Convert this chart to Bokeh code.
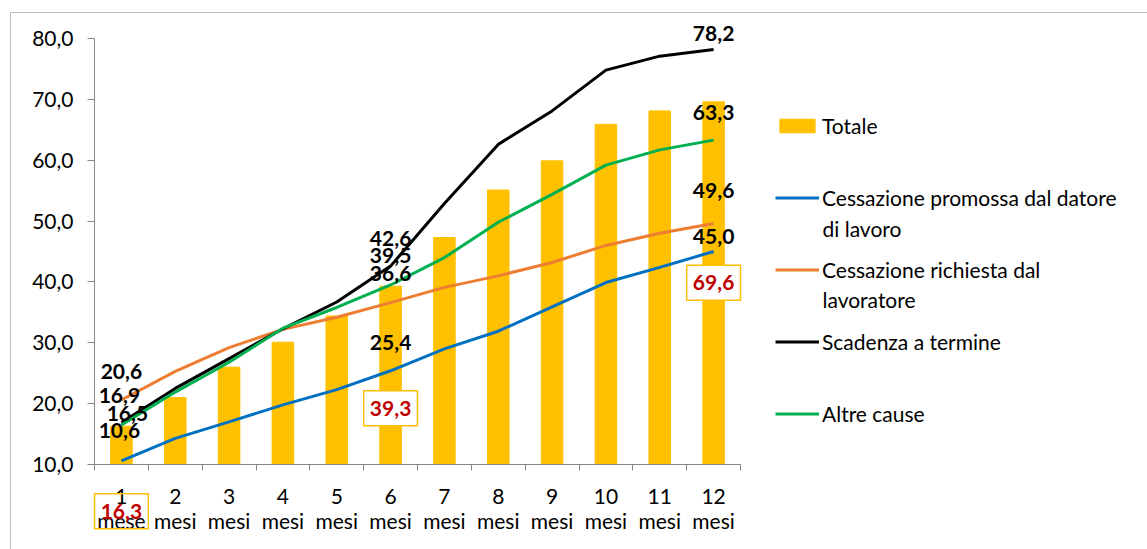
from bokeh.plotting import figure
from bokeh.models import Range1d, FixedTicker, Label, Legend, LegendItem, BoxAnnotation
from bokeh.embed import file_html
from bokeh.resources import INLINE

# ---- data -------------------------------------------------------------
months = [1, 2, 3, 4, 5, 6, 7, 8, 9, 10, 11, 12]
month_labels = ["1\nmese", "2\nmesi", "3\nmesi", "4\nmesi", "5\nmesi", "6\nmesi",
                "7\nmesi", "8\nmesi", "9\nmesi", "10\nmesi", "11\nmesi", "12\nmesi"]

totale = [16.3, 21.0, 26.0, 30.1, 34.4, 39.3, 47.3, 55.1, 59.9, 65.9, 68.1, 69.6]
datore = [10.6, 14.3, 17.0, 19.8, 22.3, 25.4, 29.0, 31.9, 35.9, 39.9, 42.4, 45.0]
lavoratore = [20.6, 25.3, 29.2, 32.2, 34.2, 36.6, 39.1, 41.0, 43.2, 46.0, 48.0, 49.6]
scadenza = [16.9, 22.5, 27.4, 32.3, 36.7, 42.6, 52.9, 62.6, 68.1, 74.8, 77.1, 78.2]
altre = [16.5, 21.9, 26.8, 32.4, 35.8, 39.5, 44.0, 49.8, 54.4, 59.2, 61.7, 63.3]

y_ticks = [10, 20, 30, 40, 50, 60, 70, 80]
y_tick_labels = ["10,0", "20,0", "30,0", "40,0", "50,0", "60,0", "70,0", "80,0"]

labelled_months = [1, 6, 12]

# ---- layout constants (pixels) ----------------------------------------
W, H = 1147, 549
# plotting area of the axes inside the canvas
A_LEFT, A_RIGHT, A_TOP, A_BOTTOM = 94, 740, 38, 464
X_LO, X_HI = 0.5, 12.5
Y_LO, Y_HI = 10, 80

SX = (X_HI - X_LO) / (A_RIGHT - A_LEFT)   # data units per pixel, x
SY = (Y_HI - Y_LO) / (A_BOTTOM - A_TOP)   # data units per pixel, y

FONT = "Lato"
FS = "21px"
GREY = "#868686"


def px_to_x(px):
    return X_LO + (px - A_LEFT) * SX


def px_to_y(py):
    return Y_LO + (A_BOTTOM - py) * SY


def it(v):
    return f"{v:.1f}".replace(".", ",")


# the frame spans the whole canvas so that labels, legend and frame border are not clipped
p = figure(width=W, height=H, title=None,
           x_range=Range1d(px_to_x(0), px_to_x(W)), y_range=Range1d(px_to_y(H), px_to_y(0)),
           min_border=0, min_border_left=0, min_border_right=0,
           min_border_top=0, min_border_bottom=0,
           output_backend="svg", toolbar_location=None,
           background_fill_color="white", border_fill_color="white")
p.outline_line_color = None
p.xgrid.visible = False
p.ygrid.visible = False

# chart-area frame
p.add_layout(BoxAnnotation(left=px_to_x(10), right=px_to_x(W + 20), top=px_to_y(12),
                           bottom=px_to_y(H + 20), fill_color=None, line_color="#bdbdbd",
                           line_alpha=1.0, line_width=1, level="underlay"))

# ---- axes ---------------------------------------------------------------
xa = p.xaxis[0]
xa.fixed_location = Y_LO
xa.bounds = (X_LO, X_HI)
xa.ticker = FixedTicker(ticks=months, minor_ticks=[m - 0.5 for m in months] + [12.5])
xa.major_label_overrides = {m: lab for m, lab in zip(months, month_labels)}
xa.major_tick_line_color = None
xa.major_tick_in = 0
xa.major_tick_out = 0
xa.minor_tick_in = 0
xa.minor_tick_out = 6
xa.minor_tick_line_color = GREY
xa.axis_line_color = GREY
xa.major_label_standoff = 12
xa.major_label_text_font = FONT
xa.major_label_text_font_size = FS
xa.major_label_text_color = "black"
xa.major_label_text_line_height = 1.0

ya = p.yaxis[0]
ya.fixed_location = X_LO
ya.bounds = (Y_LO, Y_HI)
ya.ticker = FixedTicker(ticks=y_ticks, minor_ticks=[])
ya.major_label_overrides = {t: lab for t, lab in zip(y_ticks, y_tick_labels)}
ya.major_tick_in = 0
ya.major_tick_out = 7
ya.major_tick_line_color = GREY
ya.minor_tick_line_color = None
ya.axis_line_color = GREY
ya.major_label_standoff = 14
ya.major_label_text_font = FONT
ya.major_label_text_font_size = FS
ya.major_label_text_color = "black"

# ---- marks --------------------------------------------------------------
bars = p.vbar(x=months, top=totale, bottom=Y_LO, width=0.4, fill_color="#FFC000",
              line_color="#FFC000")

series = [
    ("Cessazione promossa dal datore", datore, "#0070C0"),
    ("Cessazione richiesta dal", lavoratore, "#ED7D31"),
    ("Scadenza a termine", scadenza, "#000000"),
    ("Altre cause", altre, "#00B050"),
]
line_renderers = []
for name, vals, col in series:
    r = p.line(months, vals, line_color=col, line_width=3, line_join="round")
    line_renderers.append(r)

# ---- value labels -------------------------------------------------------
# pixel nudges (dx, dy) of each value label from its point, for months 1, 6, 12
line_nudges = [
    [(-2, 30), (0, 28), (0, 15)],
    [(0, 28), (0, 29), (0, 33)],
    [(-2, 27), (0, 28), (0, 16)],
    [(6, 11), (0, 29), (0, 28)],
]
for (name, vals, col), nudges in zip(series, line_nudges):
    for m, (dx, dy) in zip(labelled_months, nudges):
        v = vals[m - 1]
        p.add_layout(Label(x=m, y=v, x_offset=dx, y_offset=dy, text=it(v),
                           text_font=FONT, text_font_size=FS, text_font_style="bold",
                           text_color="black", text_align="center", text_baseline="middle"))

# boxed labels of the total, placed this many pixels below the bar top
bar_nudges = [85, 122, 181]
BOX_H = 35
for m, dn in zip(labelled_months, bar_nudges):
    v = totale[m - 1]
    cy = v - dn * SY
    p.add_layout(BoxAnnotation(left=m - 0.5, right=m + 0.5,
                               top=cy + BOX_H / 2 * SY, bottom=cy - BOX_H / 2 * SY,
                               fill_color="white" if m != 1 else None, fill_alpha=1.0,
                               line_color="#FFC000", line_alpha=1.0, line_width=1.5))
    p.add_layout(Label(x=m, y=cy, text=it(v), text_font=FONT, text_font_size=FS,
                       text_font_style="bold", text_color="#C00000",
                       text_align="center", text_baseline="middle"))

# ---- legend ---------------------------------------------------------------
ITEM_H, GAP = 26, 46
legend_h = 5 * ITEM_H + 4 * GAP
legend_top = 125 - ITEM_H / 2
legend = Legend(items=[LegendItem(label="Totale", renderers=[bars])] +
                [LegendItem(label=name, renderers=[r]) for (name, _, _), r in zip(series, line_renderers)],
                location=(775, H - (legend_top + legend_h)), orientation="vertical",
                glyph_width=44, glyph_height=17, label_height=ITEM_H, label_width=10,
                spacing=GAP, padding=0, margin=0, label_standoff=3,
                border_line_color=None, background_fill_alpha=0,
                label_text_font=FONT, label_text_font_size=FS, label_text_color="black")
p.add_layout(legend)

for txt, py in [("di lavoro", 228), ("lavoratore", 299)]:
    p.add_layout(Label(x=px_to_x(822), y=px_to_y(py), text=txt, text_font=FONT,
                       text_font_size=FS, text_color="black",
                       text_align="left", text_baseline="middle"))

open("out.html", "w").write(file_html(p, INLINE))
